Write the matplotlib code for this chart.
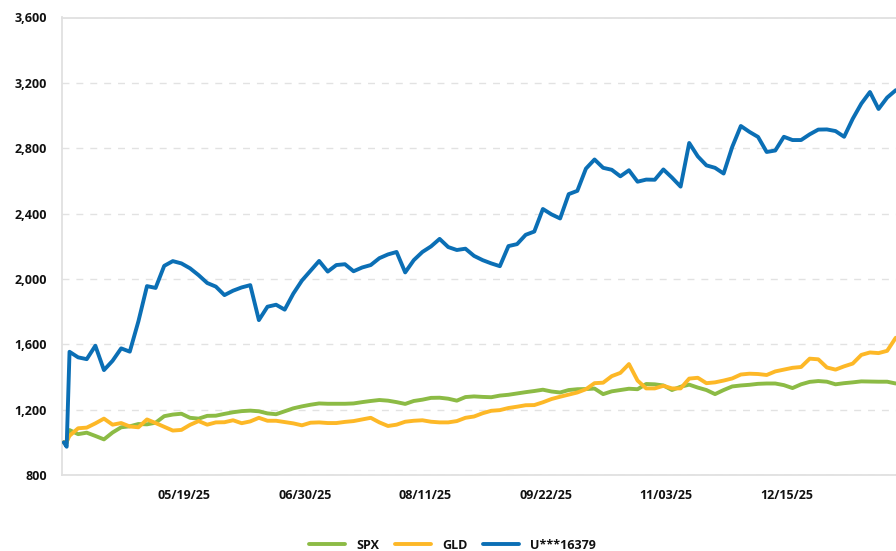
import matplotlib
matplotlib.use('Agg')
import matplotlib.pyplot as plt
import matplotlib.dates as mdates
from matplotlib.ticker import FuncFormatter
import pandas as pd

plt.rcParams['font.family'] = ['Open Sans', 'DejaVu Sans']

# ---- data ----
dates = pd.DatetimeIndex(['2025-04-07', '2025-04-08']).append(
    pd.date_range('2025-04-09', periods=97, freq='3D'))

account = [1000, 973,
           1554, 1520, 1509, 1591, 1442, 1499, 1575, 1555, 1740, 1956,
           1945, 2080, 2109, 2095, 2065, 2023, 1975, 1953, 1901, 1928,
           1948, 1962, 1748, 1830, 1842, 1812, 1910, 1990, 2050, 2110,
           2045, 2085, 2090, 2047, 2070, 2085, 2127, 2150, 2165, 2040,
           2115, 2165, 2199, 2245, 2195, 2177, 2185, 2141, 2115, 2095,
           2078, 2201, 2213, 2270, 2290, 2428, 2395, 2370, 2519, 2539,
           2675, 2731, 2680, 2668, 2628, 2665, 2595, 2608, 2607, 2670,
           2620, 2565, 2832, 2750, 2695, 2680, 2645, 2808, 2936, 2900,
           2869, 2777, 2786, 2870, 2850, 2850, 2885, 2914, 2915, 2905,
           2870, 2980, 3073, 3144, 3040, 3110, 3155]

spx = [1000, 995,
       1075, 1050, 1059, 1039, 1018, 1060, 1092, 1098, 1112, 1110,
       1120, 1160, 1170, 1175, 1150, 1145, 1162, 1163, 1174, 1184,
       1191, 1194, 1190, 1177, 1172, 1190, 1208, 1220, 1230, 1238,
       1236, 1236, 1236, 1238, 1246, 1253, 1259, 1255, 1246, 1235,
       1253, 1261, 1272, 1273, 1267, 1255, 1277, 1281, 1278, 1276,
       1286, 1291, 1299, 1307, 1314, 1322, 1311, 1305, 1320, 1325,
       1326, 1329, 1295, 1312, 1320, 1328, 1325, 1357, 1355, 1348,
       1320, 1340, 1353, 1335, 1320, 1295, 1320, 1342, 1348, 1352,
       1358, 1360, 1360, 1350, 1332, 1355, 1370, 1375, 1371, 1355,
       1362, 1367, 1373, 1372, 1371, 1371, 1360]

gld = [1000, 1005,
       1040, 1086, 1090, 1116, 1145, 1108, 1118, 1097, 1092, 1140,
       1118, 1095, 1072, 1076, 1107, 1130, 1108, 1122, 1123, 1135,
       1117, 1128, 1150, 1132, 1132, 1124, 1116, 1104, 1120, 1122,
       1118, 1118, 1125, 1130, 1140, 1150, 1122, 1100, 1108, 1126,
       1132, 1135, 1126, 1122, 1122, 1130, 1150, 1158, 1178, 1193,
       1197, 1210, 1218, 1227, 1228, 1245, 1265, 1279, 1292, 1305,
       1325, 1362, 1365, 1405, 1425, 1479, 1378, 1330, 1330, 1346,
       1330, 1330, 1390, 1395, 1362, 1367, 1378, 1391, 1415, 1420,
       1418, 1412, 1434, 1445, 1456, 1461, 1512, 1508, 1458, 1445,
       1465, 1482, 1535, 1550, 1546, 1560, 1640]

series_names = ['SPX', 'GLD', 'U***16379']
tick_dates = ['2025-05-19', '2025-06-30', '2025-08-11',
              '2025-09-22', '2025-11-03', '2025-12-15']
y_ticks = [800, 1200, 1600, 2000, 2400, 2800, 3200, 3600]

# ---- styling ----
GREEN = '#8cbb45'
ORANGE = '#fdb827'
BLUE = '#0b6fb5'
TEXT = '#111111'
GRID = '#e2e2e2'

fig = plt.figure(figsize=(8.96, 5.51), dpi=100)
ax = fig.add_axes([62 / 896, 1 - 475 / 551, 1 - 62 / 896, (475 - 17.5) / 551])

lw = 2.8
ax.plot(dates, spx, color=GREEN, lw=lw, label=series_names[0],
        solid_joinstyle='round', solid_capstyle='round', zorder=3)
ax.plot(dates, gld, color=ORANGE, lw=lw, label=series_names[1],
        solid_joinstyle='round', solid_capstyle='round', zorder=4)
ax.plot(dates, account, color=BLUE, lw=lw, label=series_names[2],
        solid_joinstyle='round', solid_capstyle='round', zorder=5)

ax.set_ylim(y_ticks[0], y_ticks[-1])
ax.set_yticks(y_ticks)
ax.yaxis.set_major_formatter(FuncFormatter(lambda v, p: f'{int(v):,}'))

ax.set_xticks(pd.to_datetime(tick_dates))
ax.xaxis.set_major_formatter(mdates.DateFormatter('%m/%d/%y'))
ax.set_xlim(dates[0] - pd.Timedelta(hours=15), dates[-1] + pd.Timedelta(hours=2))

ax.grid(axis='y', color=GRID, lw=1.0, linestyle=(0, (5, 5)), zorder=0)
ax.set_axisbelow(True)

for s in ['left', 'bottom', 'top']:
    ax.spines[s].set_color('#e0e0e0')
    ax.spines[s].set_linewidth(1.3)
ax.spines['right'].set_visible(False)

ax.tick_params(axis='y', length=0, pad=11, labelsize=9, labelcolor=TEXT)
ax.tick_params(axis='x', length=0, pad=10, labelsize=9, labelcolor=TEXT)
for lab in ax.get_xticklabels() + ax.get_yticklabels():
    lab.set_fontweight('bold')

fig.legend(loc='lower center', bbox_to_anchor=(0.505, -0.022), ncol=3,
           frameon=False, handlelength=2.9, handletextpad=0.9,
           columnspacing=1.2, prop={'weight': 'bold', 'size': 9},
           labelcolor=TEXT)

fig.savefig('out.png', dpi=100)
